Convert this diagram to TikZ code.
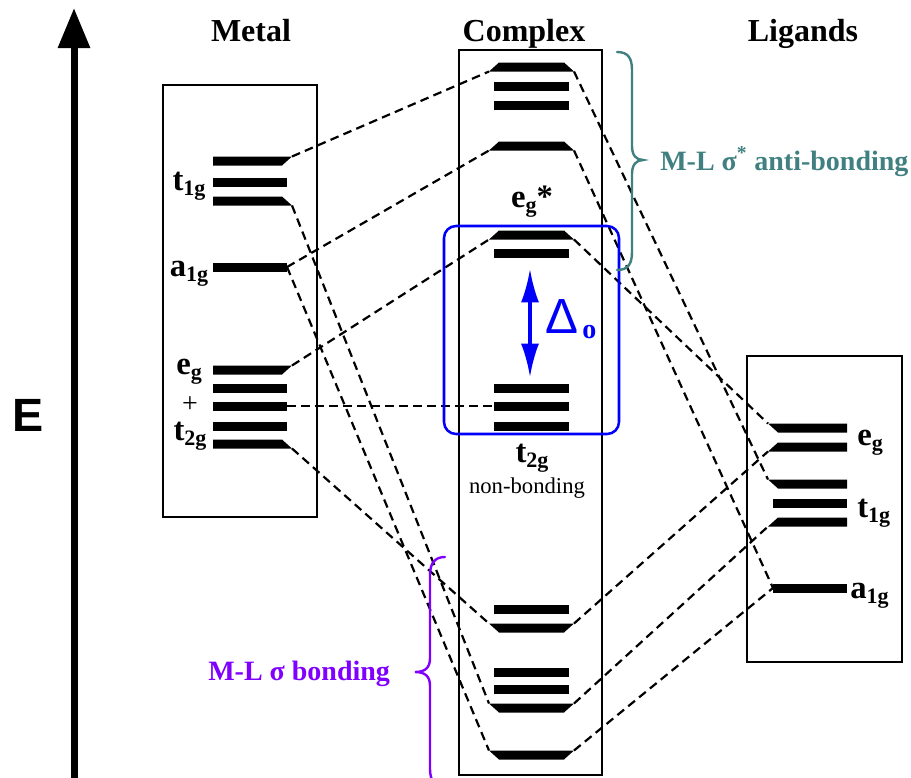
\documentclass[tikz,border=0pt]{standalone}
\usepackage{fontspec}
\setmainfont{Liberation Serif}
\newfontfamily\sansf{Liberation Sans}
\usetikzlibrary{arrows.meta}
\definecolor{tealc}{RGB}{64,128,128}
\definecolor{purpc}{RGB}{128,0,255}
\definecolor{bluec}{RGB}{0,0,250}
\newcommand{\sbs}[1]{\raisebox{-4pt}{\fontsize{16.5}{16.5}\selectfont #1}}
\newcommand{\lev}[6]{%
  \fill ({#2-5*(#5)},{#4-4.5}) -- ({#3+5*(#6)},{#4-4.5}) -- ({#3-5*(#6)},{#4+4.5}) -- ({#2+5*(#5)},{#4+4.5}) -- cycle;
  \coordinate (#1-l) at ({#2-5*abs(#5)},{#4-4.5*(#5)});
  \coordinate (#1-r) at ({#3+5*abs(#6)},{#4-4.5*(#6)});}
\tikzset{
  boxframe/.style={draw, line width=1.5pt},
  conn/.style={line width=1.65pt, dash pattern=on 6.5pt off 4pt},
  lbl/.style={font=\fontsize{24.5}{24.5}\selectfont\bfseries, inner sep=0pt},
  txtlbl/.style={font=\fontsize{21}{21}\selectfont\bfseries, inner sep=0pt},
  ttl/.style={font=\fontsize{24}{24}\selectfont\bfseries, inner sep=0pt, anchor=base},
  bracepath/.style={line width=1.8pt, line cap=round}
}
\begin{document}
\begin{tikzpicture}[x=0.75pt, y=-0.75pt]
\useasboundingbox (0,0) rectangle (911,778);
% energy axis
\coordinate (ebot) at (74,778);
\coordinate (etop) at (74,8);
\draw[line width=5.25pt, -{Triangle[length=30pt,width=23pt]}] (ebot) -- (etop);
\node[font=\sansf\bfseries\fontsize{35}{35}\selectfont, inner sep=0pt] (elab) at (28,415) {E};
% titles
\node[ttl] (tmetal) at (251,41) {Metal};
\node[ttl] (tcomplex) at (524,41) {Complex};
\node[ttl] (tlig) at (803,41) {Ligands};
% frames
\draw[boxframe] (163,85) rectangle (317,517);
\draw[boxframe] (459,50) rectangle (602,775);
\draw[boxframe] (747,356) rectangle (902,662);
% metal levels
\lev{m1}{213}{287}{161}{0}{1}
\lev{m2}{213}{287}{182}{0}{0}
\lev{m3}{213}{287}{201}{0}{-1}
\lev{ma}{213}{287}{267}{0}{0}
\lev{me1}{213}{287}{370}{0}{1}
\lev{me2}{213}{287}{388}{0}{0}
\lev{me3}{213}{287}{406}{0}{0}
\lev{me4}{213}{287}{426}{0}{0}
\lev{me5}{213}{287}{444}{0}{-1}
% complex levels
\lev{c1}{494}{569}{67}{-1}{-1}
\lev{c2}{494}{569}{86}{0}{0}
\lev{c3}{494}{569}{105}{0}{0}
\lev{c4}{494}{569}{146}{-1}{-1}
\lev{c5}{494}{569}{235}{-1}{-1}
\lev{c6}{494}{569}{253}{0}{0}
\lev{c7}{494}{569}{388}{0}{0}
\lev{c8}{494}{569}{406}{0}{0}
\lev{c9}{494}{569}{426}{0}{0}
\lev{c10}{494}{569}{609}{0}{0}
\lev{c11}{494}{569}{628}{1}{1}
\lev{c12}{494}{569}{672}{0}{0}
\lev{c13}{494}{569}{689}{0}{0}
\lev{c14}{494}{569}{708}{1}{1}
\lev{c15}{494}{569}{755}{1}{1}
% ligand levels
\lev{le1}{773}{847}{428}{1}{0}
\lev{le2}{773}{847}{447}{-1}{0}
\lev{lt1}{773}{847}{484}{1}{0}
\lev{lt2}{773}{847}{503}{0}{0}
\lev{lt3}{773}{847}{522}{-1}{0}
\lev{la}{773}{847}{588}{0}{0}
% connectors
\draw[conn] (m1-r) -- (c1-l);
\draw[conn] (ma-r) -- (c4-l);
\draw[conn] (me1-r) -- (c5-l);
\draw[conn] (me3-r) -- (c8-l);
\draw[conn] (me5-r) -- (c11-l);
\draw[conn] (m3-r) -- (c14-l);
\draw[conn] (ma-r) -- (c15-l);
\draw[conn] (c1-r) -- (lt1-l);
\draw[conn] (c4-r) -- (la-l);
\draw[conn] (c5-r) -- (le1-l);
\draw[conn] (c11-r) -- (le2-l);
\draw[conn] (c14-r) -- (lt3-l);
\draw[conn] (c15-r) -- (la-l);
% metal labels
\node[lbl, anchor=base] (lm1) at (189,190) {t\sbs{1g}};
\node[lbl, anchor=base] (lma) at (189,276) {a\sbs{1g}};
\node[lbl, anchor=base] (lme) at (189,374) {e\sbs{g}};
\node[font=\fontsize{21}{21}\selectfont, inner sep=0pt] (lplus) at (190,405) {+};
\node[lbl, anchor=base] (lmt) at (190,440) {t\sbs{2g}};
% complex labels
\node[lbl, anchor=base] (lceg) at (532,207) {e\sbs{g}*};
\node[lbl, anchor=base] (lct) at (532,462) {t\sbs{2g}};
\node[font=\fontsize{17}{17}\selectfont, inner sep=0pt, anchor=base] (lnb) at (527,493) {non-bonding};
% ligand labels
\node[lbl, anchor=base west] (lle) at (857,445) {e\sbs{g}};
\node[lbl, anchor=base west] (llt) at (857,517) {t\sbs{1g}};
\node[lbl, anchor=base west] (lla) at (850,598) {a\sbs{1g}};
% splitting box and arrow
\draw[bluec, line width=1.9pt, rounded corners=9pt] (444,226) rectangle (619,434);
\coordinate (dtop) at (530,269);
\coordinate (dbot) at (530,377);
\draw[bluec, line width=2.3pt, {Latex[length=25pt,width=13.5pt]}-{Latex[length=25pt,width=13.5pt]}] (dtop) -- (dbot);
\node[text=bluec, font=\sansf\fontsize{37}{37}\selectfont, inner sep=0pt, anchor=base west] (delta) at (545,333) {Δ};
\node[text=bluec, txtlbl, anchor=base west] (dsub) at (582,338) {o};
% braces
\draw[tealc, bracepath] (617,52) .. controls (628,52) and (632,58) .. (632,70) -- (632,146) .. controls (632,155) and (636,160) .. (643,160) .. controls (636,160) and (632,165) .. (632,174) -- (632,252) .. controls (632,264) and (628,270) .. (617,270);
\node[text=tealc, txtlbl, anchor=base west] (lanti) at (660,170) {M-L σ\textsuperscript{*} anti-bonding};
\draw[purpc, bracepath] (445,557) .. controls (435,557) and (430,563) .. (430,575) -- (430,658) .. controls (430,667) and (426,672) .. (415,672) .. controls (426,672) and (430,677) .. (430,686) -- (430,769) .. controls (430,781) and (435,787) .. (445,787);
\node[text=purpc, txtlbl, anchor=base west] (lbond) at (208,680) {M-L σ bonding};
\end{tikzpicture}
\end{document}
